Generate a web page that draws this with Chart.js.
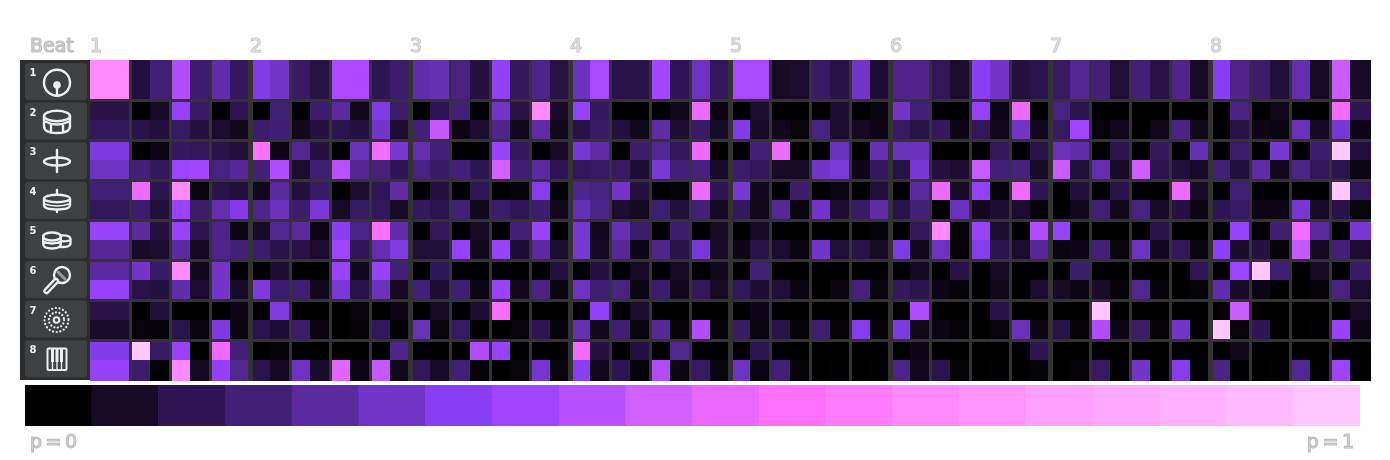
<!DOCTYPE html>
<html>
<head>
<meta charset="utf-8">
<title>Beat probabilities</title>
<script src="https://cdn.jsdelivr.net/npm/chart.js@4"></script>
<style>
  html, body { margin: 0; padding: 0; background: #fff; width: 1390px; height: 460px; overflow: hidden; }
  canvas { position: absolute; display: block; }
  #chart { left: 0; top: 0; }
  #scaleBar { left: 25px; top: 385px; }
  #overlay { position: absolute; left: 0; top: 0; }
  .grey { font: 19px "DejaVu Sans"; fill: #dcdcdc; stroke: #bebebe; stroke-width: 1.2; }
  .num { font: bold 10px "DejaVu Sans"; fill: #eef1f6; }
  .ico { fill: none; stroke: #eceef0; stroke-width: 2.4; stroke-linecap: round; stroke-linejoin: round; }
</style>
</head>
<body>
<canvas id="chart" width="1390" height="460"></canvas>
<canvas id="scaleBar" width="1335" height="41"></canvas>
<svg id="overlay" width="1390" height="460" xmlns="http://www.w3.org/2000/svg">
  <text class="grey" x="30" y="52">Beat</text>
  <text class="grey" x="30" y="447.5" word-spacing="-2.5">p = 0</text>
  <text class="grey" x="1354" y="447.5" text-anchor="end" word-spacing="-2.5">p = 1</text>
  <g id="panel"></g>
  <!-- kick -->
  <g class="ico">
    <circle cx="57" cy="82.7" r="13"/><path d="M57 85V95.5"/>
    <circle cx="57" cy="85" r="2.6" fill="#eceef0"/>
  </g>
  <!-- snare -->
  <g class="ico">
    <ellipse cx="57" cy="116" rx="13" ry="5.2"/>
    <path d="M44 116V126Q44 133 57 133Q70 133 70 126V116M44 121Q57 128 70 121M51 125V132M63 125V132"/>
  </g>
  <!-- open hat -->
  <g class="ico">
    <ellipse cx="57" cy="161.5" rx="13" ry="4"/><path d="M57 150V172"/>
  </g>
  <!-- closed hat -->
  <g class="ico">
    <ellipse cx="57" cy="198.5" rx="13" ry="3.8"/>
    <path d="M44 199V205Q44 209.5 57 209.5Q70 209.5 70 205V199M57 190V194.5M57 209.5V212"/>
    <path d="M45 204Q57 208 69 204" stroke-width="1.6"/>
  </g>
  <!-- toms -->
  <g class="ico">
    <ellipse cx="52" cy="236.5" rx="8.8" ry="4"/>
    <path d="M43.2 236.5V244Q43.2 248.5 52 248.5Q60.8 248.5 60.8 244V236.5M43.2 241.5Q52 245.5 60.8 241.5"/>
    <path d="M60.5 235.5Q70.5 234.5 70.5 239.5V243Q70.5 247.5 60.8 247M60.8 241Q66 242 70.5 240"/>
  </g>
  <!-- mic -->
  <g class="ico">
    <circle cx="62" cy="275" r="8"/>
    <path d="M56 281L46.5 291" stroke-width="6.4"/>
    <path d="M56 281L46.5 291" stroke="#3e4042" stroke-width="1.8"/>
    <path d="M58 272L65 279" stroke="#999" stroke-width="3"/>
  </g>
  <!-- ride -->
  <g class="ico">
    <circle cx="56.5" cy="320" r="12" stroke-width="2.2" stroke-dasharray="0.1 3.6"/>
    <circle cx="56.5" cy="320" r="7.6" stroke-width="2.2" stroke-dasharray="0.1 3.4"/>
    <circle cx="56.5" cy="320" r="2.8" stroke-width="2"/>
  </g>
  <!-- keys -->
  <g class="ico">
    <rect x="47.5" y="348.5" width="19" height="21.5" stroke-width="2" rx="1"/>
    <path d="M52.5 349V362M57 349V362M61.5 349V362" stroke-width="3" stroke-linecap="butt"/>
    <path d="M52.5 362V370M57 362V370M61.5 362V370" stroke-width="1.4" stroke-linecap="butt"/>
  </g>
</svg>

<script>
// Colour steps of the bar under the chart, from p = 0 to p = 1

const paletteSteps = [
  "#000000", "#170a26", "#2c1552", "#432078", "#5a2a9e",
  "#7235c8", "#8a3ef4", "#a044ff", "#b950ff", "#d060ff",
  "#e868ff", "#ff70ff", "#ff7cff", "#ff8aff", "#ff94ff",
  "#ffa0ff", "#ffa8ff", "#ffb0ff", "#ffbaff", "#ffc6ff",
];

const beatLabels = ["1", "2", "3", "4", "5", "6", "7", "8"];
const trackLabels = ["1", "2", "3", "4", "5", "6", "7", "8"];

// One row per pitch, 64 steps, values are positions on the colour bar (0 to 19)

const track1 = [13,13,1.5,3,7.7,2.7,4.3,2.3, 5.7,5,2.5,1.7,7.5,7.5,2,2.7, 4.3,4.5,3.2,1.6,6.3,2.3,3.4,1.7, 4.7,7.3,1.8,1.8,7.2,2,4.8,2.2, 7.3,7.3,1,1.2,2.5,1.7,5,1.3, 3.5,3.5,2.2,1.2,6,5,1.6,1.9, 2.4,3.7,3,1.4,3,1.7,3.5,1, 6,3.5,2.7,1.5,4.4,1,8.7,1];
const track2a = [1.7,1.7,0,1,6.5,2.5,0,2, 0,2.9,0,2.7,4,0.7,5.6,2.6, 0,2,3,0,5,1.7,13,1, 6.5,2.3,0,0,0,0.7,10.3,0.4, 0,1.2,0,0,0,1.3,0,0.4, 5,3,0,0,6.5,0.5,10.3,0, 3.2,1.9,0,0,0,0,0,0, 0,3.3,0,0.7,0,0,10.5,2];
const track2b = [2.3,2.3,1.8,1.5,2.4,1.6,1.2,0.8, 2.7,2.8,0.8,1.6,1.9,1.6,5,1.2, 3,8.5,0.5,1.3,3.5,0.8,4.2,0.7, 1.7,2.5,1.6,0.7,4.2,1.3,2.5,1, 5.7,1,0.7,0.3,3.2,1.2,0.9,0.6, 2.4,1.8,2.3,0.6,2.2,0.7,5,0.8, 2.4,7,0.3,0.7,0,0.7,3.3,0.7, 0,1.7,0.6,0.4,4.6,0.9,5.2,0.6];
const track3a = [5.5,5.5,0,0.5,2.3,2.2,1.8,1.5, 11,0.6,3.6,1.6,0,4.6,10.5,5.2, 4.4,3,0,0,6.6,2.2,0,1, 5.2,4.2,0,2.6,3.7,2.2,10.3,0, 0,3,10.3,0,0,4.6,0,4.5, 4.7,4.7,0,0,0,2.2,0,1.8, 4.6,4.3,0,1.9,0,2.3,0,4.5, 0,2.6,0,5.2,0,2.7,19,1.5];
const track3b = [4.8,4.8,3,2.3,6.8,7.2,3.2,3.8, 3,7.7,1.2,2.8,8,3.7,3.1,2, 3.2,2.5,3,2,9,2.8,4,2, 2.2,2.4,2.4,1.3,5.3,3,3.1,1, 2.6,2.2,1,1,5,5.4,0.6,2.3, 1.7,5.2,1.6,1.3,8.7,2.9,3.1,1, 8.7,1.4,4.4,1,8.9,1.9,1.5,1, 2.9,1.5,4.2,0.8,3.4,2.2,1.9,0.5];
const track4a = [3,3,10.3,1.9,13,0.3,1.8,1.5, 0.8,4,1.5,2.5,0,1.2,2.1,4.2, 0,1.6,0,2.1,0,0.2,5.8,0, 3.5,3.2,5,1.6,0,0.2,10.3,2, 5.2,0.8,0,2.6,0,0.5,0,1.4, 0,4,10.3,1,6.5,0.2,10.3,2, 0,1.5,0,1.8,0,0,10.3,1, 0,2.9,0,0,0,0,19,2.2];
const track4b = [2.2,2.2,2.7,1.5,6.7,2.6,4.4,5.7, 3.5,4.7,2.7,5.3,1,2.4,2.2,1, 2.3,1.9,3,0.8,2.7,2.1,2.7,0.7, 4.5,3.4,1.2,0.9,2.8,1.5,3,0.9, 2.3,0.7,3.8,0.4,5,1.3,2.5,4.2, 1.8,3,0,4.7,0.8,1.3,1.2,0.2, 0,0.8,2.9,0.8,3.2,1,1.6,0.5, 2,2.4,0.6,0.6,5.2,1,1.7,0.3];
const track5a = [6.6,6.6,4,1.6,6.7,1.9,3.4,0.5, 1,3.6,4,0.6,6,3.4,11,4.3, 0,2.2,0,1,0,3,6.7,0, 5.2,0.8,4.5,2.6,0,2.7,0,1, 0,1,0,0,0,0,0,0.2, 0,2.3,13,0.2,6.7,1.2,0,7.7, 6.7,0,0,0,0,1.8,0,0, 0,6.6,0,2.8,10.5,4,0,5.2];
const track5b = [3.8,3.8,1,1.2,4,0.9,3.5,3, 2.7,1.8,1.7,1.2,7,2.1,4.4,5.6, 1.4,1.4,6.5,0.7,6.7,1.3,4,1.2, 5.2,0.9,3.8,0.6,3.5,1.8,5.3,1, 0.6,1.8,1.2,0.4,5,1.4,1.8,1, 5.6,0.8,4.8,0.2,5.8,1.9,1.2,3.8, 0.4,0.6,3,0.3,4.8,0.8,2.2,0.4, 6.2,1.1,1.6,0.2,8.5,0.9,3,1.2];
const track6a = [4,4,5,2.5,13,0.7,5,0, 0,1.3,0,0,6.7,0.8,6.7,3, 0,2.1,0,0,0,0,0,1.6, 0,1.6,0,1,0,1,0,0.8, 0,3,0,0,0,0,0,0, 0,0.9,0,1.7,0,1,0,0, 0,2.6,0,0,0,0,0,2.1, 0,6.8,19,2.8,0,1,0,2.5];
const track6b = [6.5,6.5,1.8,1.6,4.3,1.2,5,1, 5.5,2.7,2.8,0.7,5.3,1.8,4.7,0.9, 3,1.3,2.8,0.5,6.7,0.7,3.3,0.4, 4.8,2.8,3.2,0.5,2.7,0.8,2.2,1, 2.2,1.3,1.4,0.4,0,0.4,3.1,0.3, 2.3,1.9,0.5,0.2,0,0.7,0,1.2, 1,0.5,1.1,0.2,3.6,0.2,0,0.2, 4.3,1,0.5,0.1,0,0.2,3.2,1.2];
const track7a = [1.7,1.7,0,1.4,0,0,0,0.5, 0,5.6,0,0,0,0.3,0,0.5, 0,1,0,1.3,10.6,0,0,0, 0,6.4,0,1.2,0,0,0,0, 0,0.6,0,0,0,0,0,0, 0,7.7,0,0,0,1.7,0,0, 0,0,19,0,0,0,0,0, 0,8.8,0,0,0,0,0,1];
const track7b = [1.1,1.1,0.3,0.2,1.9,0.4,5.5,0.4, 1.9,1.3,2.6,0.4,0,0.2,2.2,0.1, 4.6,0.3,2.4,0.1,0,0.3,2,0.2, 4.5,0.8,2.8,0.3,3.8,0.2,7.7,0.2, 2.5,0.4,1.8,0.2,2.8,0.2,5.8,0.2, 5.5,0.7,0.5,0.2,0,0.3,4.6,0.6, 1.8,0.2,7.7,0.6,2.6,0.2,5,0, 19.3,0.3,2,0,0,0.1,6.7,0.5];
const track8a = [5.7,5.7,19,2.4,6.7,0,10.3,3, 0,0.2,0,0,0,0,0,3.5, 0,0,0,7.7,6.7,0,0,0, 10.5,1.6,0,1.6,0,3.6,0,0, 0,2,0,0,0,0,0,0, 0,0.6,0,0,0,0,0,2, 0,0,0,0,0,0,0,0, 0,0.8,0,0,0,0,0,0];
const track8b = [6.5,6.5,2.7,0.1,13,0.9,6.3,3.6, 1.9,0.9,4.8,1.1,9.7,0.5,8.5,0.7, 2.2,1,2.9,0.2,0,0.3,5.1,0.3, 6,0.8,2,0.2,7.7,0.5,2.4,0.4, 4.8,0.4,2.9,0.2,0,0.1,0,0.1, 3.4,0.7,1.9,0.2,0,0.1,0,0.2, 0,0.2,2.4,0.1,5,0.1,5.8,0.1, 3.3,0.1,0,0.1,3.6,0.1,6.8,0.1];

const rows = [
  track1, track1, track2a, track2b, track3a, track3b, track4a, track4b,
  track5a, track5b, track6a, track6b, track7a, track7b, track8a, track8b,
];

const gapColor = "#333333";

// Turn a position on the colour bar into a colour, blending between two steps

function hexToRgb(hex) {
  return [1, 3, 5].map((i) => parseInt(hex.slice(i, i + 2), 16));
}

function levelColor(level) {
  let low = Math.min(Math.floor(level), paletteSteps.length - 1);
  let high = Math.min(low + 1, paletteSteps.length - 1);
  let t = level - low;
  let a = hexToRgb(paletteSteps[low]);
  let b = hexToRgb(paletteSteps[high]);
  let mixed = a.map((v, i) => Math.round(v + (b[i] - v) * t));
  return `rgb(${mixed[0]},${mixed[1]},${mixed[2]})`;
}

// Left panel with one button per track, drawn under the icons

function drawPanel() {
  let ns = "http://www.w3.org/2000/svg";
  let panel = document.getElementById("panel");
  let add = (name, attrs, text) => {
    let el = document.createElementNS(ns, name);
    Object.keys(attrs).forEach((k) => el.setAttribute(k, attrs[k]));
    if (text) el.textContent = text;
    panel.appendChild(el);
  };
  add("rect", { x: 20, y: 60, width: 70, height: 320, fill: "#2b2d2e" });
  trackLabels.forEach((label, i) => {
    let top = 63 + i * 39.6;
    add("rect", { x: 25, y: top, width: 62, height: 37, rx: 3, fill: "#3e4042" });
    add("text", { x: 29.5, y: top + 13, class: "num" }, label);
  });
}

// The last column runs one pixel past the axis in the picture, so widen its bars here

const lastColumnEdge = {
  id: "lastColumnEdge",
  afterDraw(chart) {
    let ctx = chart.ctx;
    let right = chart.chartArea.right;
    rows.forEach((values, r) => {
      let bar = chart.getDatasetMeta(r).data[values.length - 1];
      let top = Math.min(bar.y, bar.base);
      ctx.fillStyle = levelColor(values[values.length - 1]);
      ctx.fillRect(right, top, 1, Math.abs(bar.y - bar.base));
      if (r > 0 && r % 2 === 0) {
        ctx.fillStyle = gapColor;
        ctx.fillRect(right, top - 1, 1, 3);
      }
    });
  },
};

// Main grid: every cell is a stacked bar of height one, gaps are the axis grid lines

function createGrid() {
  let steps = rows[0].map((v, i) => i);
  let datasets = rows.map((values, r) => ({
    // the last row runs one pixel past the others, as in the picture
    data: values.map(() => (r === rows.length - 1 ? 1.05 : 1)),
    backgroundColor: values.map(levelColor),
    inflateAmount: 0,
    borderWidth: 0,
    barPercentage: 1,
    categoryPercentage: 1,
  }));

  new Chart("chart", {
    type: "bar",
    data: { labels: steps, datasets: datasets },
    plugins: [lastColumnEdge],
    options: {
      responsive: false,
      animation: false,
      layout: { padding: { left: 90, right: 20, top: 30, bottom: 79 } },
      plugins: { legend: { display: false }, tooltip: { enabled: false } },
      scales: {
        x: {
          position: "top",
          stacked: true,
          afterFit: (scale) => { scale.height = 30; },
          border: { display: false },
          grid: {
            z: 1,
            offset: true,
            drawTicks: false,
            color: gapColor,
            lineWidth: (ctx) => {
              if (!ctx.index) return 0;
              if (ctx.index % 8 === 0) return 5;
              return ctx.index % 2 === 0 ? 3 : 0;
            },
          },
          ticks: {
            autoSkip: false,
            maxRotation: 0,
            align: "start",
            labelOffset: -10,
            padding: 2,
            color: "#dcdcdc",
            textStrokeColor: "#bebebe",
            textStrokeWidth: 1.2,
            font: { family: "DejaVu Sans", size: 19 },
            callback: (value, i) => (i % 8 === 0 ? beatLabels[i / 8] : ""),
          },
        },
        y: {
          stacked: true,
          reverse: true,
          min: 0,
          max: 16.05,
          afterFit: (scale) => { scale.width = 0; },
          border: { display: false },
          grid: {
            z: 1,
            drawTicks: false,
            color: gapColor,
            lineWidth: (ctx) => {
              let v = ctx.tick ? ctx.tick.value : 0;
              return v > 0 && v < 16 && v % 2 === 0 ? 3 : 0;
            },
          },
          ticks: { display: false, stepSize: 1 },
        },
      },
    },
  });
}

// Colour bar under the grid

function createScaleBar() {
  new Chart("scaleBar", {
    type: "bar",
    data: {
      labels: paletteSteps.map((c, i) => i),
      datasets: [
        {
          data: paletteSteps.map(() => 1),
          backgroundColor: paletteSteps,
          barPercentage: 1,
          categoryPercentage: 1,
        },
      ],
    },
    options: {
      responsive: false,
      animation: false,
      plugins: { legend: { display: false }, tooltip: { enabled: false } },
      scales: {
        x: { display: false },
        y: { display: false, min: 0, max: 1 },
      },
    },
  });
}

drawPanel();
createGrid();
createScaleBar();
</script>
</body>
</html>
